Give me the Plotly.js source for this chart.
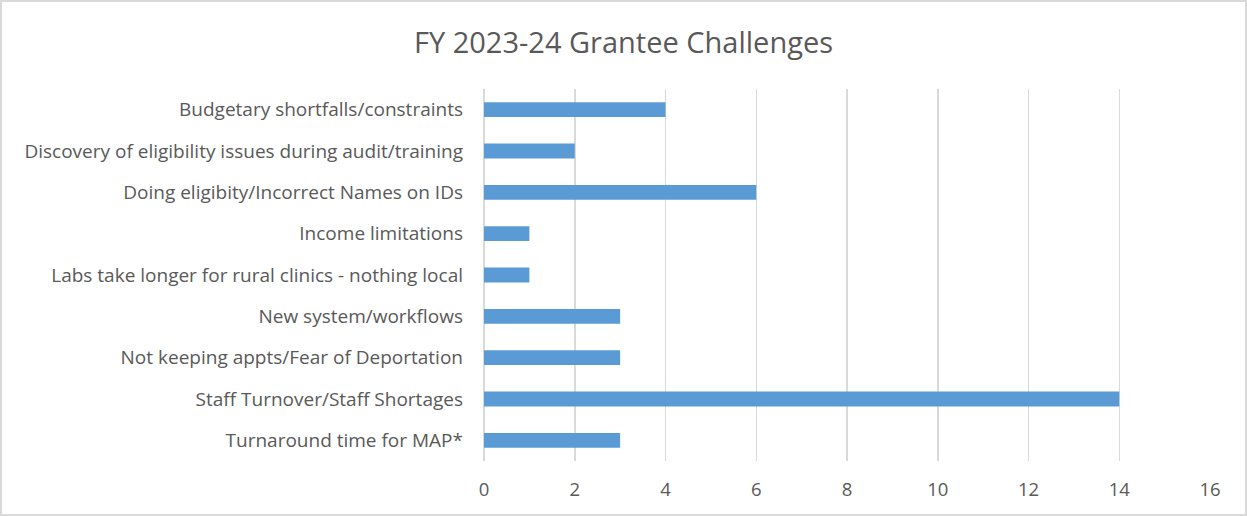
<!DOCTYPE html>
<html>
<head>
<meta charset="utf-8">
<script src="https://cdn.plot.ly/plotly-3.0.1.min.js"></script>
<style>
html,body{margin:0;padding:0;background:#fff;}
#wrap{width:1247px;height:516px;box-sizing:border-box;border:2px solid #d9d9d9;}
#chart{width:1243px;height:512px;}
</style>
</head>
<body>
<div id="wrap"><div id="chart"></div></div>
<script>
const categories = [
  "Budgetary shortfalls/constraints",
  "Discovery of eligibility issues during audit/training",
  "Doing eligibity/Incorrect Names on IDs",
  "Income limitations",
  "Labs take longer for rural clinics - nothing local",
  "New system/workflows",
  "Not keeping appts/Fear of Deportation",
  "Staff Turnover/Staff Shortages",
  "Turnaround time for MAP*"
];
const counts = [4, 2, 6, 1, 1, 3, 3, 14, 3];
const xTicks = [0, 2, 4, 6, 8, 10, 12, 14, 16];
const chartTitle = "FY 2023-24 Grantee Challenges";

const fontFam = "'Open Sans', 'Liberation Sans', sans-serif";
Plotly.newPlot('chart', [{
  type: 'bar',
  orientation: 'h',
  x: counts,
  y: categories,
  width: 0.36,
  marker: {color: '#5b9bd5'},
  hoverinfo: 'x+y'
}], {
  width: 1243, height: 512,
  margin: {l: 482, r: 35, t: 87, b: 53},
  paper_bgcolor: '#fff', plot_bgcolor: '#fff',
  font: {family: fontFam, color: '#595959', size: 19},
  title: {text: chartTitle, x: 0.5, xanchor: 'center', y: 0.92, yanchor: 'middle',
          font: {family: fontFam, size: 29, color: '#595959'}},
  xaxis: {range: [0, 16], tickvals: xTicks, ticktext: xTicks.map(String),
          showgrid: true, gridcolor: '#d9d9d9', gridwidth: 1.5,
          zeroline: true, zerolinecolor: '#d9d9d9', zerolinewidth: 1.5,
          showline: false, ticks: '', ticklabelstandoff: 15,
          tickfont: {size: 18.5, color: '#595959'}, fixedrange: true},
  yaxis: {type: 'category', autorange: 'reversed', showgrid: false, zeroline: false,
          showline: false, ticks: '', ticklabelstandoff: 20,
          tickfont: {size: 19, color: '#595959'}, fixedrange: true},
  showlegend: false,
  bargap: 0.64
}, {displayModeBar: false, staticPlot: true});
</script>
</body>
</html>
